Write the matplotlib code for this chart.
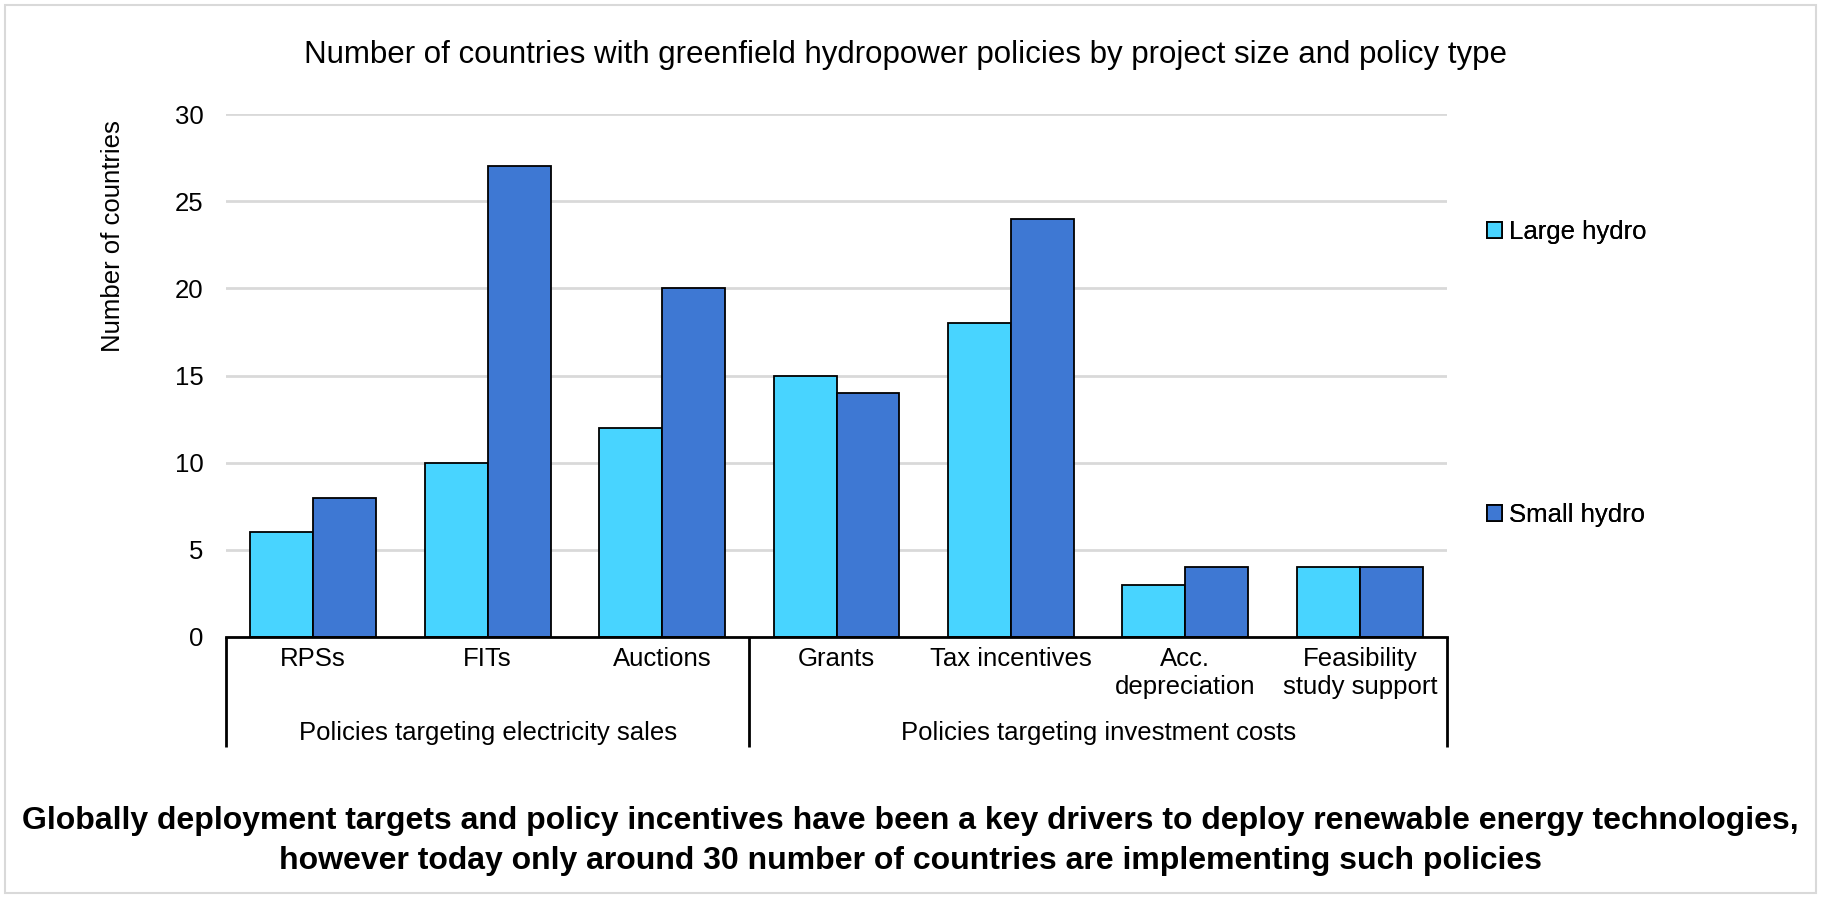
import matplotlib
matplotlib.use("Agg")
import matplotlib.pyplot as plt
from matplotlib.patches import Rectangle, Patch
import numpy as np

plt.rcParams['font.family'] = ['Liberation Sans', 'DejaVu Sans']

# Data
categories = ["RPSs", "FITs", "Auctions", "Grants", "Tax incentives",
              "Acc.\ndepreciation", "Feasibility\nstudy support"]
groups = ["Policies targeting electricity sales", "Policies targeting investment costs"]
group_sizes = [3, 4]
large_hydro = [6, 10, 12, 15, 18, 3, 4]
small_hydro = [8, 27, 20, 14, 24, 4, 4]

c_large = "#48d4ff"
c_small = "#3e78d3"
fs = 18.5

W, H = 1821, 898
fig = plt.figure(figsize=(W / 100, H / 100), dpi=100)

# plot area in pixels: x 226..1447, y 114..637
ax = fig.add_axes([226 / W, 1 - 637 / H, 1221 / W, (637 - 114) / H])

x = np.arange(len(categories))
bw = 0.361
ax.bar(x - bw / 2, large_hydro, bw, color=c_large, edgecolor="black", linewidth=1.3, zorder=3)
ax.bar(x + bw / 2, small_hydro, bw, color=c_small, edgecolor="black", linewidth=1.3, zorder=3)

ax.set_xlim(-0.5, len(categories) - 0.5)
ax.set_ylim(0, 30)
ax.set_yticks([0, 5, 10, 15, 20, 25, 30])
ax.tick_params(axis='y', length=0, pad=16, labelsize=fs)
ax.set_xticks([])
ax.yaxis.grid(True, color="#d9d9d9", linewidth=2)
ax.set_axisbelow(True)
for s in ["top", "right", "left"]:
    ax.spines[s].set_visible(False)
ax.spines["bottom"].set_color("black")
ax.spines["bottom"].set_linewidth(2)
ax.spines["bottom"].set_zorder(4)

tr = ax.get_xaxis_transform()
# category labels
for i, lab in enumerate(categories):
    ax.text(i, -0.02, lab, transform=tr, ha="center", va="top", fontsize=fs,
            linespacing=1.2)

# group labels and separators
start = 0
seps = [-0.5]
for g, n in zip(groups, group_sizes):
    mid = start + (n - 1) / 2
    ax.text(mid, -0.1836, g, transform=tr, ha="center", va="center", fontsize=fs)
    start += n
    seps.append(start - 0.5)
for sx in seps:
    ax.plot([sx, sx], [0, -0.2103], transform=tr, color="black", linewidth=2,
            clip_on=False, solid_capstyle="butt")

# y label
fig.text(113 / W, 1 - 236 / H, "Number of countries", rotation=90,
         ha="center", va="center", fontsize=fs)

# title
fig.text(905 / W, 1 - 55 / H,
         "Number of countries with greenfield hydropower policies by project size and policy type",
         ha="center", va="center", fontsize=22.5)

# legend entries, placed separately like the original
for lab, col, ypx in [("Large hydro", c_large, 232), ("Small hydro", c_small, 515)]:
    h = Patch(facecolor=col, edgecolor="black", linewidth=1.3)
    leg = fig.legend([h], [lab], loc="center left", bbox_to_anchor=(1487 / W, 1 - ypx / H),
                     frameon=False, fontsize=fs, handlelength=0.6, handleheight=0.6,
                     handletextpad=0.25, borderpad=0, borderaxespad=0)
    fig.add_artist(leg)

# caption
fig.text(0.5, 1 - 821 / H,
         "Globally deployment targets and policy incentives have been a key drivers to deploy renewable energy technologies,",
         ha="center", va="center", fontsize=23, fontweight="bold")
fig.text(0.5, 1 - 861 / H,
         "however today only around 30 number of countries are implementing such policies",
         ha="center", va="center", fontsize=23, fontweight="bold")

# light outer frame
fig.add_artist(Rectangle((5 / W, 5 / H), (W - 10) / W, (H - 10) / H, transform=fig.transFigure,
                         fill=False, edgecolor="#d9d9d9", linewidth=1.5))

fig.savefig("out.png", dpi=100)
